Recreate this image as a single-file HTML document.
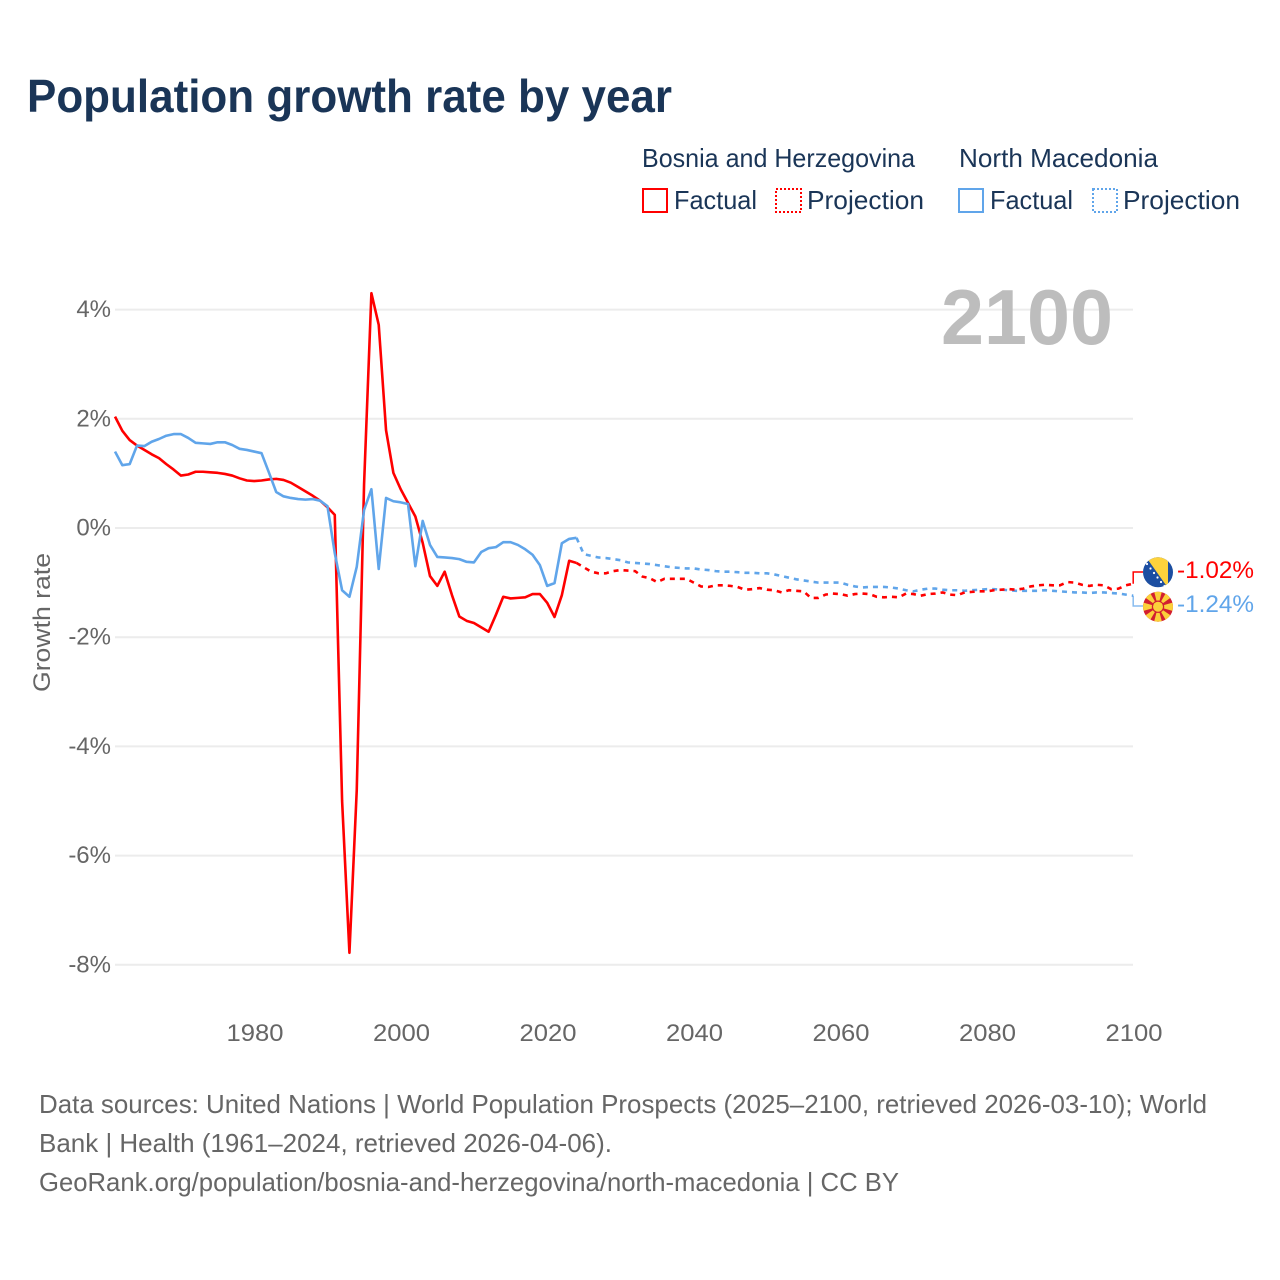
<!DOCTYPE html>
<html lang="en">
<head>
<meta charset="utf-8">
<title>Population growth rate by year</title>
<style>
html,body{margin:0;padding:0;background:#fff;width:1280px;height:1280px;overflow:hidden}
svg{display:block;font-family:"Liberation Sans",Arial,sans-serif}
</style>
</head>
<body>
<svg id="chart" xmlns="http://www.w3.org/2000/svg" width="1280" height="1280" viewBox="0 0 1280 1280">
  <rect width="1280" height="1280" fill="#fff"/>
  <text x="27" y="112" font-size="46" font-weight="700" fill="#1a3557" textLength="645" lengthAdjust="spacingAndGlyphs">Population growth rate by year</text>

  <g font-size="26" fill="#1a3557">
    <text x="642" y="167" textLength="273" lengthAdjust="spacingAndGlyphs">Bosnia and Herzegovina</text>
    <text x="959" y="167" textLength="199" lengthAdjust="spacingAndGlyphs">North Macedonia</text>
    <rect x="643" y="189" width="24" height="23" fill="none" stroke="#ff0000" stroke-width="2"/>
    <text x="674" y="209" textLength="83" lengthAdjust="spacingAndGlyphs">Factual</text>
    <rect x="776" y="189" width="25" height="23" fill="none" stroke="#ff0000" stroke-width="2" stroke-dasharray="2 2"/>
    <text x="807" y="209" textLength="117" lengthAdjust="spacingAndGlyphs">Projection</text>
    <rect x="959" y="189" width="24" height="23" fill="none" stroke="#60a5ea" stroke-width="2"/>
    <text x="990" y="209" textLength="83" lengthAdjust="spacingAndGlyphs">Factual</text>
    <rect x="1093" y="189" width="24" height="23" fill="none" stroke="#60a5ea" stroke-width="2" stroke-dasharray="2 2"/>
    <text x="1123" y="209" textLength="117" lengthAdjust="spacingAndGlyphs">Projection</text>
  </g>

  <g id="grid"></g>
  <g id="yticks" font-size="24" fill="#666" text-anchor="end"></g>
  <g id="xticks" font-size="24" fill="#666" text-anchor="middle"></g>
  <text transform="translate(50,622.5) rotate(-90)" font-size="24" fill="#666" text-anchor="middle" textLength="139" lengthAdjust="spacingAndGlyphs">Growth rate</text>
  <text x="941" y="344" font-size="78" font-weight="700" fill="#bdbdbd" textLength="172" lengthAdjust="spacingAndGlyphs">2100</text>

  <g id="series"></g>

  <defs>
    <clipPath id="clipBa"><circle cx="1158" cy="572.3" r="15"/></clipPath>
    <clipPath id="clipMk"><circle cx="1158" cy="606.7" r="15"/></clipPath>
  </defs>
  <g clip-path="url(#clipBa)">
    <rect x="1143" y="557" width="30" height="31" fill="#1c4ea1"/>
    <polygon points="1146,557 1168,557 1168,588" fill="#fdd23c"/>
    <g fill="#fff">
      <circle cx="1147" cy="564" r="1.1"/><circle cx="1150.5" cy="568.5" r="1.1"/><circle cx="1154" cy="573" r="1.1"/>
      <circle cx="1157.5" cy="577.5" r="1.1"/><circle cx="1161" cy="582" r="1.1"/><circle cx="1164.5" cy="586" r="1.1"/>
    </g>
  </g>
  <g clip-path="url(#clipMk)">
    <rect x="1143" y="591" width="30" height="31" fill="#d21f30"/>
    <g fill="#fbd03a">
      <polygon points="1158,606.7 1154,591 1162,591"/>
      <polygon points="1158,606.7 1154,622 1162,622"/>
      <polygon points="1158,606.7 1143,602.5 1143,611"/>
      <polygon points="1158,606.7 1173,602.5 1173,611"/>
      <polygon points="1158,606.7 1143,596 1149,591"/>
      <polygon points="1158,606.7 1167,591 1173,596"/>
      <polygon points="1158,606.7 1143,617 1149,622"/>
      <polygon points="1158,606.7 1167,622 1173,617"/>
    </g>
    <circle cx="1158" cy="606.7" r="6.2" fill="#d21f30"/>
    <circle cx="1158" cy="606.7" r="5" fill="#fbd03a"/>
  </g>
  <text x="1177" y="578" font-size="24" fill="#ff0000" textLength="77" lengthAdjust="spacingAndGlyphs">-1.02%</text>
  <text x="1177" y="612" font-size="24" fill="#60a5ea" textLength="77" lengthAdjust="spacingAndGlyphs">-1.24%</text>

  <g font-size="26" fill="#666">
    <text x="39" y="1113" textLength="1168" lengthAdjust="spacingAndGlyphs">Data sources: United Nations | World Population Prospects (2025–2100, retrieved 2026-03-10); World</text>
    <text x="39" y="1152" textLength="573" lengthAdjust="spacingAndGlyphs">Bank | Health (1961–2024, retrieved 2026-04-06).</text>
    <text x="39" y="1191" textLength="860" lengthAdjust="spacingAndGlyphs">GeoRank.org/population/bosnia-and-herzegovina/north-macedonia | CC BY</text>
  </g>
</svg>
<script>
const startYear = 1961;
const lastFactualYear = 2024;
const yTickValues = [4, 2, 0, -2, -4, -6, -8];
const xTickValues = [1980, 2000, 2020, 2040, 2060, 2080, 2100];

const bosniaFactual = [2.04,1.78,1.61,1.51,1.43,1.35,1.28,1.17,1.07,0.96,0.98,1.03,1.03,1.02,1.01,0.99,0.96,0.91,0.87,0.86,
  0.87,0.89,0.90,0.88,0.83,0.75,0.67,0.59,0.50,0.38,0.24,-5.0,-7.78,-4.8,0.8,4.3,3.72,1.79,1.01,0.71,
  0.46,0.21,-0.27,-0.88,-1.06,-0.80,-1.23,-1.62,-1.70,-1.74,-1.82,-1.90,-1.59,-1.26,-1.29,-1.28,-1.27,-1.21,-1.21,-1.37,
  -1.63,-1.23,-0.60,-0.64];
const macedoniaFactual = [1.40,1.15,1.17,1.51,1.50,1.58,1.63,1.69,1.72,1.72,1.65,1.56,1.55,1.54,1.57,1.57,1.52,1.45,1.43,1.40,
  1.37,1.02,0.66,0.58,0.55,0.53,0.52,0.53,0.50,0.40,-0.46,-1.14,-1.26,-0.71,0.33,0.71,-0.75,0.55,0.49,0.47,
  0.44,-0.70,0.13,-0.31,-0.53,-0.54,-0.55,-0.57,-0.62,-0.63,-0.44,-0.37,-0.35,-0.26,-0.26,-0.31,-0.39,-0.49,-0.68,-1.06,
  -1.01,-0.28,-0.20,-0.18];
const bosniaProjection = [-0.72,-0.80,-0.83,-0.83,-0.79,-0.77,-0.78,-0.79,-0.89,-0.92,-0.99,-0.93,-0.93,-0.93,-0.93,-1.00,-1.07,-1.08,-1.05,-1.05,
  -1.06,-1.08,-1.13,-1.12,-1.10,-1.13,-1.14,-1.18,-1.14,-1.15,-1.16,-1.28,-1.28,-1.22,-1.20,-1.21,-1.24,-1.21,-1.20,-1.21,
  -1.26,-1.27,-1.26,-1.27,-1.20,-1.21,-1.24,-1.21,-1.20,-1.18,-1.22,-1.23,-1.18,-1.17,-1.16,-1.16,-1.14,-1.13,-1.12,-1.13,
  -1.11,-1.07,-1.05,-1.04,-1.05,-1.05,-0.99,-1.00,-1.04,-1.06,-1.04,-1.05,-1.12,-1.11,-1.05,-1.02];
const macedoniaProjection = [-0.48,-0.51,-0.54,-0.55,-0.57,-0.59,-0.63,-0.64,-0.65,-0.66,-0.68,-0.70,-0.72,-0.73,-0.74,-0.74,-0.76,-0.77,-0.79,-0.80,
  -0.80,-0.81,-0.82,-0.82,-0.83,-0.83,-0.85,-0.88,-0.91,-0.94,-0.96,-0.98,-1.00,-1.00,-1.00,-1.00,-1.04,-1.07,-1.09,-1.08,
  -1.08,-1.08,-1.09,-1.11,-1.14,-1.16,-1.13,-1.11,-1.11,-1.13,-1.14,-1.14,-1.15,-1.14,-1.13,-1.12,-1.12,-1.13,-1.14,-1.15,
  -1.15,-1.15,-1.15,-1.14,-1.15,-1.16,-1.17,-1.18,-1.18,-1.19,-1.18,-1.18,-1.19,-1.20,-1.22,-1.24];

const NS = 'http://www.w3.org/2000/svg';
function xScale(year){ return 254.2 + (year - 1980) * 7.325; }
function yScale(v){ return 528 - v * 54.6; }
function node(parent, tag, attrs){
  const el = document.createElementNS(NS, tag);
  for (const k in attrs) el.setAttribute(k, attrs[k]);
  parent.appendChild(el);
  return el;
}
function pathFrom(values, firstYear, prefix){
  const pts = prefix.slice();
  values.forEach(function(v, i){ pts.push([xScale(firstYear + i), yScale(v)]); });
  return pts.map(function(p, i){ return (i ? 'L' : 'M') + p[0].toFixed(2) + ' ' + p[1].toFixed(2); }).join('');
}

const grid = document.getElementById('grid');
const yticks = document.getElementById('yticks');
const xticks = document.getElementById('xticks');
const series = document.getElementById('series');

yTickValues.forEach(function(v){
  const line = node(grid, 'line', {x1: 115, x2: 1133, y1: yScale(v), y2: yScale(v), stroke: '#ececec', 'stroke-width': 2});
  
  
  const t = node(yticks, 'text', {x: 111, y: yScale(v) + 7.5});
  t.textContent = v + '%';
  
  
});
xTickValues.forEach(function(y){
  const t = node(xticks, 'text', {x: xScale(y) + 0.8, y: 1041, textLength: 57, lengthAdjust: 'spacingAndGlyphs'});
  t.textContent = y;
  
  
});

const red = '#ff0000';
const blue = '#60a5ea';
const firstProjection = lastFactualYear + 1;

const bosniaPrefix = [[xScale(lastFactualYear), yScale(bosniaFactual[bosniaFactual.length - 1])]];
const macedoniaPrefix = [[xScale(lastFactualYear), yScale(macedoniaFactual[macedoniaFactual.length - 1])]];

const macProjLine = node(series, 'path', {d: pathFrom(macedoniaProjection, firstProjection, macedoniaPrefix), fill: 'none', stroke: blue, 'stroke-width': 2.6, 'stroke-dasharray': '5 5'});



const bosProjLine = node(series, 'path', {d: pathFrom(bosniaProjection, firstProjection, bosniaPrefix), fill: 'none', stroke: red, 'stroke-width': 2.6, 'stroke-dasharray': '5 5'});



const bosLine = node(series, 'path', {d: pathFrom(bosniaFactual, startYear, []), fill: 'none', stroke: red, 'stroke-width': 2.6, 'stroke-linejoin': 'round'});



const macLine = node(series, 'path', {d: pathFrom(macedoniaFactual, startYear, []), fill: 'none', stroke: blue, 'stroke-width': 2.6, 'stroke-linejoin': 'round'});



const endX = xScale(2100);
const bosEnd = yScale(bosniaProjection[bosniaProjection.length - 1]);
const macEnd = yScale(macedoniaProjection[macedoniaProjection.length - 1]);
const bosConn = node(series, 'path', {d: 'M' + endX + ' ' + bosEnd + 'V572H1143', fill: 'none', stroke: red, 'stroke-width': 1.5});


const macConn = node(series, 'path', {d: 'M' + endX + ' ' + macEnd + 'V606H1143', fill: 'none', stroke: blue, 'stroke-width': 1.5, 'stroke-opacity': 0.75});


</script>
</body>
</html>
